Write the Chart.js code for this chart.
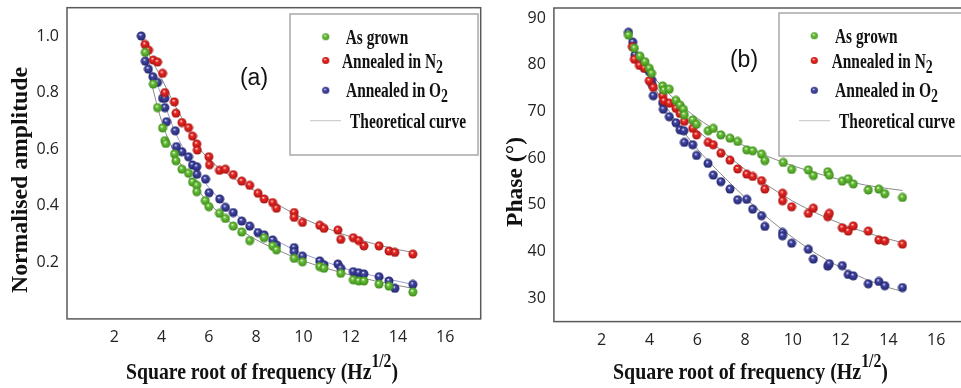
<!DOCTYPE html>
<html>
<head>
<meta charset="utf-8">
<script src="https://cdn.jsdelivr.net/npm/chart.js@4"></script>
<style>
  html, body { margin: 0; padding: 0; background: #fff; overflow: hidden; width: 961px; height: 388px; }
  #wrapA { position: absolute; left: 0; top: 0; width: 961px; height: 388px; }
  #wrapB { position: absolute; left: 0; top: 0; width: 980px; height: 388px; }
</style>
</head>
<body>
<div id="wrapA"><canvas id="chartA" width="961" height="388"></canvas></div>
<div id="wrapB"><canvas id="chartB" width="980" height="388"></canvas></div>
<script>
// ── Panel (a): normalised amplitude vs sqrt(f)
var ampGrownX = [3.31, 3.65, 3.83, 4.04, 4.14, 4.18, 4.55, 4.61, 4.86, 5.14, 5.31, 5.49, 5.49, 5.85, 6.0, 6.45, 6.70, 7.03, 7.39, 7.73, 8.34, 8.70, 8.86, 9.61, 9.96, 10.69, 10.87, 11.58, 12.11, 12.34, 12.56, 13.20, 13.62, 14.63];
var ampGrownY = [0.942, 0.830, 0.747, 0.675, 0.630, 0.620, 0.583, 0.559, 0.529, 0.515, 0.484, 0.472, 0.450, 0.418, 0.397, 0.373, 0.355, 0.328, 0.307, 0.277, 0.287, 0.258, 0.244, 0.214, 0.202, 0.185, 0.179, 0.161, 0.138, 0.134, 0.134, 0.123, 0.116, 0.095];
var ampN2X = [3.30, 3.45, 3.65, 3.83, 4.04, 4.14, 4.54, 4.61, 4.86, 5.14, 5.31, 5.49, 5.51, 6.0, 6.03, 6.45, 6.70, 7.03, 7.39, 7.73, 8.08, 8.34, 8.70, 8.86, 9.61, 9.61, 9.96, 10.69, 10.87, 11.46, 11.58, 12.11, 12.34, 12.56, 13.20, 13.62, 13.87, 14.63];
var ampN2Y = [0.970, 0.950, 0.915, 0.908, 0.868, 0.800, 0.767, 0.727, 0.694, 0.676, 0.646, 0.618, 0.597, 0.573, 0.545, 0.525, 0.529, 0.510, 0.487, 0.472, 0.444, 0.424, 0.411, 0.391, 0.376, 0.359, 0.341, 0.331, 0.320, 0.314, 0.281, 0.287, 0.277, 0.258, 0.258, 0.240, 0.235, 0.229];
var ampO2X = [3.14, 3.31, 3.44, 3.63, 3.83, 4.04, 4.14, 4.14, 4.21, 4.58, 4.63, 4.86, 5.14, 5.31, 5.49, 5.49, 5.86, 6.01, 6.46, 6.70, 7.03, 7.39, 7.73, 8.08, 8.34, 8.70, 8.86, 9.61, 9.61, 9.96, 10.69, 10.87, 11.46, 11.58, 12.11, 12.34, 12.56, 13.20, 13.62, 13.87, 14.63];
var ampO2Y = [1.0, 0.911, 0.883, 0.856, 0.836, 0.780, 0.780, 0.747, 0.697, 0.665, 0.609, 0.591, 0.573, 0.544, 0.538, 0.511, 0.494, 0.446, 0.424, 0.394, 0.376, 0.346, 0.328, 0.305, 0.297, 0.279, 0.261, 0.252, 0.238, 0.222, 0.205, 0.191, 0.194, 0.179, 0.167, 0.163, 0.159, 0.149, 0.134, 0.108, 0.122];
// theoretical curves
var ampFitX = [3.14, 3.5, 4, 4.5, 5, 5.5, 6, 7, 8, 9, 10, 11, 12, 13, 14, 14.63];
var ampFitGrown = [1.0, 0.86, 0.70, 0.595, 0.52, 0.46, 0.41, 0.335, 0.28, 0.24, 0.205, 0.178, 0.155, 0.135, 0.118, 0.108];
var ampFitN2 = [1.0, 0.93, 0.85, 0.765, 0.69, 0.615, 0.565, 0.50, 0.45, 0.40, 0.355, 0.32, 0.29, 0.265, 0.245, 0.235];
var ampFitO2 = [1.0, 0.895, 0.79, 0.675, 0.59, 0.52, 0.465, 0.38, 0.318, 0.27, 0.23, 0.20, 0.172, 0.152, 0.133, 0.122];
var ampTicksY = [0.2, 0.4, 0.6, 0.8, 1.0];

// ── Panel (b): phase vs sqrt(f)
var phGrownX = [3.12, 3.37, 3.60, 3.81, 3.99, 4.09, 4.55, 4.61, 4.83, 5.11, 5.28, 5.42, 5.46, 5.81, 5.97, 6.46, 6.67, 6.99, 7.37, 7.69, 8.07, 8.32, 8.69, 8.83, 9.60, 9.95, 10.65, 10.86, 11.46, 11.53, 12.07, 12.32, 12.53, 13.16, 13.60, 13.85, 14.59];
var phGrownY = [86.4, 83.6, 81.9, 80.7, 79.3, 78.2, 75.5, 74.6, 74.8, 72.4, 71.4, 70.5, 69.3, 68.2, 67.3, 65.9, 66.4, 65.0, 64.3, 63.6, 61.8, 61.6, 60.9, 59.5, 59.1, 57.6, 57.5, 56.3, 57.1, 56.4, 55.1, 55.6, 54.5, 53.2, 53.4, 52.4, 51.6];
var phN2X = [3.28, 3.37, 3.58, 3.79, 3.99, 4.16, 4.55, 4.61, 4.83, 5.11, 5.28, 5.46, 5.81, 5.97, 6.46, 6.67, 6.99, 7.37, 7.69, 8.07, 8.32, 8.69, 8.83, 9.57, 9.57, 9.95, 10.65, 10.86, 11.46, 11.53, 12.07, 12.32, 12.53, 13.16, 13.60, 13.85, 14.59];
var phN2Y = [83.9, 81.2, 79.9, 79.3, 76.6, 75.2, 73.4, 72.3, 71.8, 70.7, 69.6, 67.9, 66.4, 65.0, 63.4, 62.9, 61.1, 59.6, 57.7, 56.6, 56.1, 55.2, 53.4, 52.5, 50.9, 49.6, 48.2, 49.3, 47.5, 48.2, 45.1, 44.4, 45.5, 44.4, 42.5, 42.3, 41.6];
var phO2X = [3.12, 3.30, 3.39, 3.58, 3.79, 3.99, 4.09, 4.12, 4.16, 4.55, 4.58, 4.83, 5.11, 5.28, 5.44, 5.46, 5.81, 5.97, 6.45, 6.67, 6.99, 7.37, 7.69, 8.07, 8.32, 8.69, 8.83, 9.57, 9.57, 9.95, 10.65, 10.86, 11.46, 11.53, 12.07, 12.32, 12.53, 13.16, 13.60, 13.85, 14.59];
var phO2Y = [87.0, 84.9, 82.1, 80.7, 79.3, 78.6, 76.8, 75.7, 73.4, 71.9, 70.5, 68.9, 67.6, 66.1, 65.9, 63.4, 62.9, 60.6, 58.9, 56.4, 55.0, 53.4, 51.1, 51.2, 49.1, 47.7, 45.4, 44.1, 43.4, 41.8, 40.5, 38.4, 36.9, 37.4, 37.0, 35.1, 34.8, 33.1, 33.6, 32.7, 32.3];
var phFitX = [3.12, 3.5, 4, 4.5, 5, 5.5, 6, 7, 8, 9, 10, 11, 12, 13, 14, 14.59];
var phFitGrown = [86.3, 82.3, 78.6, 75.5, 72.9, 70.6, 68.6, 65.3, 62.6, 60.3, 58.4, 56.8, 55.4, 54.3, 53.5, 53.1];
var phFitN2 = [86.0, 81.5, 77.3, 73.8, 71.0, 68.4, 66.0, 61.7, 57.6, 54.0, 50.8, 48.2, 46.0, 44.2, 42.7, 41.9];
var phFitO2 = [87.0, 82.0, 77.2, 72.6, 68.8, 65.2, 62.0, 56.6, 51.6, 47.0, 43.0, 39.5, 36.6, 34.2, 32.3, 31.5];
var phTicksY = [30, 40, 50, 60, 70, 80, 90];

var freqTicksX = [2, 4, 6, 8, 10, 12, 14, 16];

(function () {
    'use strict';

    var SERIF = '"Liberation Serif", "Times New Roman", serif';

    function ball(base, dark, r) {
        var s = Math.ceil(r * 2) + 1;
        var c = document.createElement('canvas');
        c.width = s; c.height = s;
        var g = c.getContext('2d');
        var m = s / 2;
        var grd = g.createRadialGradient(m - r * 0.2, m - r * 0.35, 0.2, m, m, r);
        grd.addColorStop(0, '#ffffff');
        grd.addColorStop(0.28, base);
        grd.addColorStop(1, dark);
        g.fillStyle = grd;
        g.beginPath();
        g.arc(m, m, r, 0, Math.PI * 2);
        g.fill();
        return c;
    }

    var GREEN = ball('#6cc23a', '#3d8c1c', 4.5);
    var RED = ball('#ee2a26', '#a91412', 4.5);
    var BLUE = ball('#4448a8', '#22246a', 4.5);
    var GREEN_S = ball('#6cc23a', '#4a9a26', 3.6);
    var RED_S = ball('#ee2a26', '#b81a16', 3.6);
    var BLUE_S = ball('#4a4eac', '#2a2c78', 3.6);

    function pts(xs, ys) {
        return xs.map(function (x, i) { return { x: x, y: ys[i] }; });
    }

    function scatter(xs, ys, img) {
        return {
            type: 'scatter',
            data: pts(xs, ys),
            pointStyle: img,
            pointRadius: 4.5,
            showLine: false
        };
    }

    function curve(xs, ys, color) {
        return {
            type: 'line',
            data: pts(xs, ys),
            borderColor: color,
            borderWidth: 1,
            pointRadius: 0,
            fill: false,
            cubicInterpolationMode: 'monotone'
        };
    }

    // rich text: parts drawn one after another, squeezed to a target width
    function rich(ctx, parts, x, y, width, angle) {
        var total = 0;
        parts.forEach(function (p) { ctx.font = p.font; total += ctx.measureText(p.t).width; });
        var sx = width ? width / total : 1;
        ctx.save();
        ctx.translate(x, y);
        if (angle) ctx.rotate(angle);
        ctx.scale(sx, 1);
        ctx.fillStyle = '#111';
        ctx.textBaseline = 'alphabetic';
        ctx.textAlign = 'left';
        var cx = 0;
        parts.forEach(function (p) {
            ctx.font = p.font;
            ctx.fillText(p.t, cx, p.dy || 0);
            cx += ctx.measureText(p.t).width;
        });
        ctx.restore();
    }

    var big = 'bold 24px ' + SERIF;
    var sup = 'bold 19px ' + SERIF;
    var leg = 'bold 20px ' + SERIF;
    var legSub = 'bold 18px ' + SERIF;

    function xTitle(ctx, x, w) {
        rich(ctx, [
            { t: 'Square root of frequency (Hz', font: big },
            { t: '1/2', font: sup, dy: -12 },
            { t: ')', font: big }
        ], x, 379, w);
    }

    function legendBox(ctx, L) {
        ctx.save();
        ctx.strokeStyle = '#a8a8a8';
        ctx.lineWidth = 1.5;
        ctx.strokeRect(L.x, L.y, L.w, L.h);
        var imgs = [GREEN_S, RED_S, BLUE_S];
        L.my.forEach(function (my, i) {
            ctx.drawImage(imgs[i], L.mx - imgs[i].width / 2, my - imgs[i].height / 2);
        });
        ctx.strokeStyle = '#c4c4c4';
        ctx.lineWidth = 1;
        ctx.beginPath();
        ctx.moveTo(L.lx0, L.ly);
        ctx.lineTo(L.lx1, L.ly);
        ctx.stroke();
        ctx.restore();
        rich(ctx, [{ t: 'As grown', font: leg }], L.tx[0], L.my[0] + 7, 62.5);
        rich(ctx, [{ t: 'Annealed in N', font: leg }, { t: '2', font: legSub, dy: 5 }], L.tx[1], L.my[1] + 7, L.tw[1]);
        rich(ctx, [{ t: 'Annealed in O', font: leg }, { t: '2', font: legSub, dy: 5 }], L.tx[2], L.my[2] + 7, L.tw[2]);
        rich(ctx, [{ t: 'Theoretical curve', font: leg }], L.tx[3], L.ly + 7, 116);
    }

    // box round the plot area, labels, legend, titles
    var decor = {
        id: 'decor',
        beforeDatasetsDraw: function (chart) {
            var a = chart.chartArea, ctx = chart.ctx;
            ctx.save();
            ctx.strokeStyle = '#5a5a5a';
            ctx.lineWidth = 1.5;
            ctx.strokeRect(a.left, a.top, a.right - a.left, a.bottom - a.top);
            ctx.restore();
        },
        afterDraw: function (chart) {
            var o = chart.options.plugins.decor, ctx = chart.ctx;
            legendBox(ctx, o.legend);
            ctx.save();
            ctx.font = '23px "Liberation Sans", Arial, sans-serif';
            ctx.fillStyle = '#111';
            ctx.textAlign = 'center';
            ctx.textBaseline = 'middle';
            ctx.fillText(o.tag, o.tagX, o.tagY);
            ctx.restore();
            xTitle(ctx, o.xtX, o.xtW);
            rich(ctx, o.ytParts, o.ytX, o.ytY, o.ytW, -Math.PI / 2);
        }
    };

    function scales(xmin, xmax, ymin, ymax, yTicks, yw, xh, fmt) {
        var tickFont = { family: '"Open Sans", "DejaVu Sans", sans-serif', size: 16 };
        return {
            x: {
                type: 'linear', min: xmin, max: xmax,
                grid: { display: false, drawTicks: false },
                border: { display: false },
                afterBuildTicks: function (s) { s.ticks = freqTicksX.map(function (v) { return { value: v }; }); },
                afterFit: function (s) { s.height = xh; s.paddingLeft = 0; s.paddingRight = 0; },
                ticks: { color: '#222', font: tickFont, padding: 9, maxRotation: 0 }
            },
            y: {
                type: 'linear', min: ymin, max: ymax,
                grid: { display: false, drawTicks: false },
                border: { display: false },
                afterBuildTicks: function (s) { s.ticks = yTicks.map(function (v) { return { value: v }; }); },
                afterFit: function (s) { s.width = yw; s.paddingTop = 0; s.paddingBottom = 0; },
                ticks: { color: '#222', font: tickFont, padding: 8, callback: fmt }
            }
        };
    }

    Chart.defaults.animation = false;
    Chart.defaults.devicePixelRatio = 1;

    new Chart(document.getElementById('chartA').getContext('2d'), {
        data: {
            datasets: [
                scatter(ampGrownX, ampGrownY, GREEN),
                scatter(ampN2X, ampN2Y, RED),
                scatter(ampO2X, ampO2Y, BLUE),
                curve(ampFitX, ampFitGrown, '#8a8a8a'),
                curve(ampFitX, ampFitN2, '#8a8a8a'),
                curve(ampFitX, ampFitO2, '#9a9dcc')
            ]
        },
        options: {
            responsive: false,
            layout: { padding: { left: 0, top: 7.7, right: 480.3, bottom: 0 } },
            scales: scales(0, 17.5, 0, 1.1, ampTicksY, 67, 69.1, function (v) { return v.toFixed(1); }),
            plugins: {
                legend: { display: false },
                tooltip: { enabled: false },
                decor: {
                    legend: { x: 290, y: 14, w: 188, h: 141, mx: 325.7, my: [36.7, 60.5, 90.3],
                              lx0: 310, lx1: 341, ly: 120.7,
                              tx: [345.7, 342, 346, 350], tw: [62.5, 101, 102, 116] },
                    tag: '(a)', tagX: 254, tagY: 79,
                    xtX: 126, xtW: 272,
                    ytParts: [{ t: 'Normalised amplitude', font: big }],
                    ytX: 26.5, ytY: 293, ytW: 226
                }
            }
        },
        plugins: [decor]
    });

    new Chart(document.getElementById('chartB').getContext('2d'), {
        data: {
            datasets: [
                scatter(phGrownX, phGrownY, GREEN),
                scatter(phN2X, phN2Y, RED),
                scatter(phO2X, phO2Y, BLUE),
                curve(phFitX, phFitGrown, '#8a8a8a'),
                curve(phFitX, phFitN2, '#8a8a8a'),
                curve(phFitX, phFitO2, '#8a8a8a')
            ]
        },
        options: {
            responsive: false,
            layout: { padding: { left: 0, top: 8, right: 8, bottom: 0 } },
            scales: scales(0, 17.5, 25, 92.2, phTicksY, 553.9, 66.4, function (v) { return String(v); }),
            plugins: {
                legend: { display: false },
                tooltip: { enabled: false },
                decor: {
                    legend: { x: 779, y: 13, w: 200, h: 143, mx: 814.3, my: [35.7, 60.5, 90.3],
                              lx0: 799, lx1: 830, ly: 120.7,
                              tx: [835, 831.7, 835, 839], tw: [62, 101, 103, 116.7] },
                    tag: '(b)', tagX: 744, tagY: 61,
                    xtX: 613, xtW: 275,
                    ytParts: [{ t: 'Phase (°)', font: big }],
                    ytX: 521.5, ytY: 227, ytW: 90
                }
            }
        },
        plugins: [decor]
    });
})();
</script>
</body>
</html>
